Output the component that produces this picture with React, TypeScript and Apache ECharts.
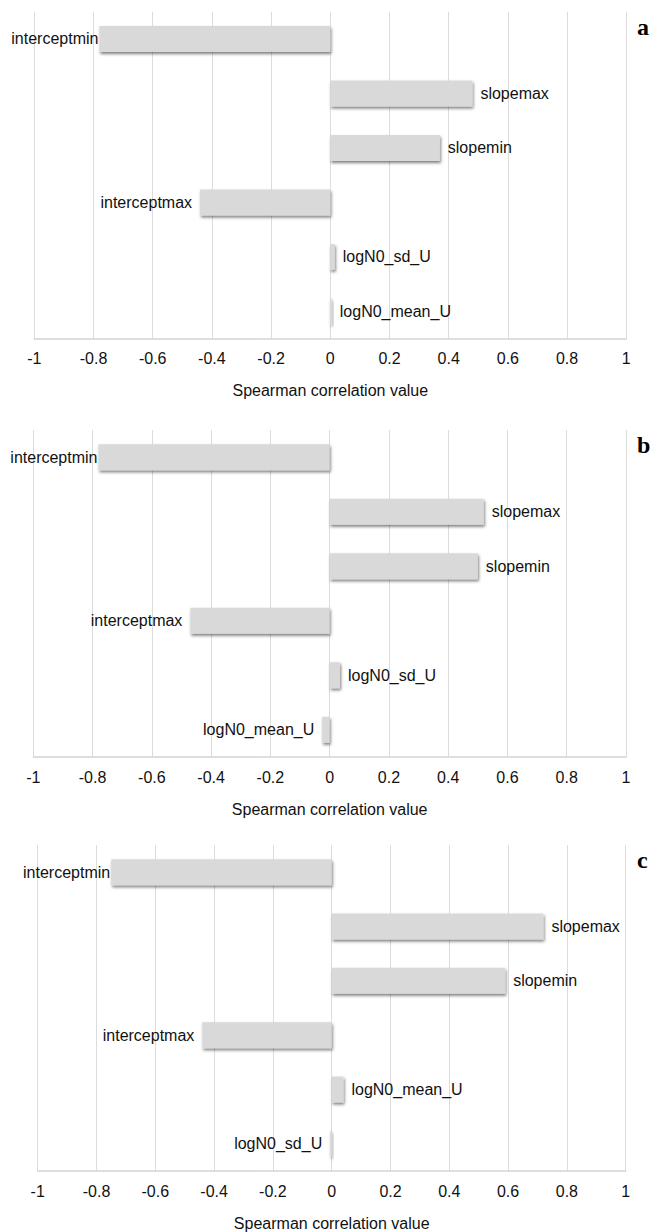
import React, { useEffect, useRef } from "react";
import * as echarts from "echarts";

const categoriesA = ["interceptmin", "slopemax", "slopemin", "interceptmax", "logN0_sd_U", "logN0_mean_U"];
const valuesA = [-0.78, 0.48, 0.37, -0.44, 0.015, 0.005];

const categoriesB = ["interceptmin", "slopemax", "slopemin", "interceptmax", "logN0_sd_U", "logN0_mean_U"];
const valuesB = [-0.78, 0.52, 0.5, -0.47, 0.035, -0.025];

const categoriesC = ["interceptmin", "slopemax", "slopemin", "interceptmax", "logN0_mean_U", "logN0_sd_U"];
const valuesC = [-0.75, 0.72, 0.59, -0.44, 0.04, -0.005];

const panelLetters = ["a", "b", "c"];
const axisTitle = "Spearman correlation value";

const FONT = "Liberation Sans, Arial, Helvetica, sans-serif";

export default function App() {
  const ref = useRef<HTMLDivElement>(null);
  useEffect(() => {
    document.body.style.margin = "0";
    if (!ref.current) return;
    const chart = echarts.init(ref.current, null, { renderer: "svg" });
    const grids = [
      { left: 34.3, right: 33.7, top: 11.7, height: 327 },
      { left: 33.3, right: 34, top: 430, height: 327 },
      { left: 37.7, right: 34.3, top: 845, height: 327 },
    ];
    const cats = [categoriesA, categoriesB, categoriesC];
    const vals = [valuesA, valuesB, valuesC];
    const xAxes = grids.map((_, i) => ({
      type: "value",
      gridIndex: i,
      min: -1,
      max: 1,
      interval: 0.2,
      axisLine: { show: true, lineStyle: { color: "#d4d4d4", width: 1.5 } },
      axisTick: { show: false },
      splitLine: { show: true, lineStyle: { color: "#dcdcdc", width: 1 } },
      axisLabel: {
        color: "#111",
        fontSize: 16,
        fontFamily: FONT,
        margin: 12,
        formatter: (v: number) => String(Math.round(v * 10) / 10),
      },
      name: axisTitle,
      nameLocation: "middle",
      nameGap: 44,
      nameTextStyle: { color: "#111", fontSize: 16, fontFamily: FONT },
    }));
    const yAxes = grids.map((_, i) => ({
      type: "category",
      gridIndex: i,
      inverse: true,
      data: cats[i],
      axisLine: { show: false },
      axisTick: { show: false },
      axisLabel: { show: false },
      splitLine: { show: false },
    }));
    const series = grids.map((_, i) => ({
      type: "bar",
      xAxisIndex: i,
      yAxisIndex: i,
      barWidth: 26,
      data: vals[i].map((v, j) => ({
        value: v,
        label: {
          position: v < 0 ? "left" : "right",
          distance: cats[i][j] === "interceptmin" ? 1 : 8,
        },
      })),
      itemStyle: {
        color: "#d9d9d9",
        shadowColor: "rgba(0,0,0,0.5)",
        shadowBlur: 3,
        shadowOffsetX: 1,
        shadowOffsetY: 2,
      },
      label: {
        show: true,
        formatter: "{b}",
        color: "#111",
        fontSize: 16,
        fontFamily: FONT,
      },
    }));
    const graphic = grids.map((g, i) => ({
      type: "text",
      left: 637,
      top: g.top + 3,
      style: {
        text: panelLetters[i],
        font: "bold 24px 'Liberation Serif', 'Times New Roman', serif",
        fill: "#000",
      },
    }));
    chart.setOption({
      animation: false,
      backgroundColor: "#fff",
      grid: grids,
      xAxis: xAxes,
      yAxis: yAxes,
      series,
      graphic,
    });
    return () => chart.dispose();
  }, []);
  return <div ref={ref} style={{ width: 660, height: 1232 }} />;
}
